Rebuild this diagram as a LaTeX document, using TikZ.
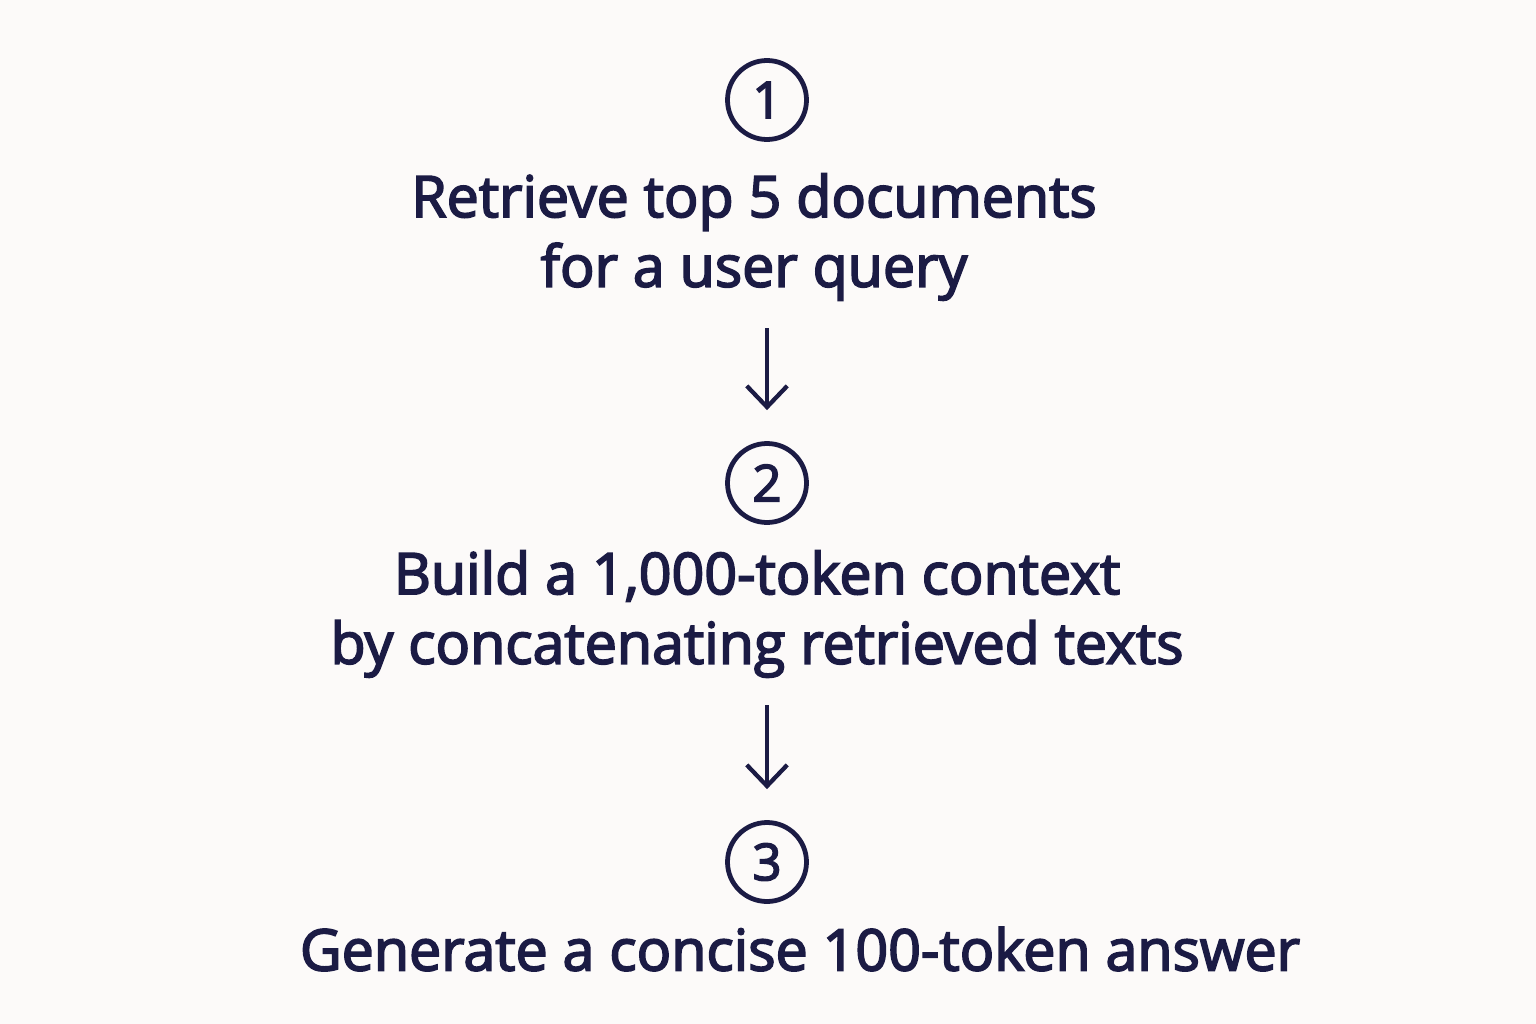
\documentclass[tikz,border=0pt]{standalone}
\usepackage{fontspec}
\setmainfont{Open Sans}[FakeBold=3]
\usetikzlibrary{arrows.meta}
\definecolor{ink}{RGB}{27,27,68}
\definecolor{paper}{RGB}{252,250,249}
\begin{document}
\begin{tikzpicture}[x=0.01cm,y=-0.01cm,
           step_num/.style={circle,draw=ink,line width=4.8pt*0.283,minimum size=79*0.01cm,inner sep=0pt,
                            text=ink,font=\fontsize{14.5}{14.5}\selectfont},
           step_text/.style={align=center,inner sep=0pt,text=ink,font=\fontsize{16.3}{19.8}\selectfont},
           flow_arrow/.style={draw=ink,line width=4.3pt*0.283,-{Straight Barb[length=6pt,width=11.5pt,line width=4.3pt*0.283]},
                              shorten <=27*0.01cm,shorten >=31*0.01cm}]
            \fill[paper] (0,0) rectangle (1536,1024);
            \useasboundingbox (0,0) rectangle (1536,1024);
            \node[step_num] (s1) at (767,100) {1};
            \node[step_text] (t1) at (754,237) {Retrieve top 5 documents\\for a user query};
            \node[step_num] (s2) at (767,483) {2};
            \node[step_text] (t2) at (757,614) {Build a 1,000-token context\\by concatenating retrieved texts};
            \node[step_num] (s3) at (767,862) {3};
            \node[step_text] (t3) at (800,949) {Generate a concise 100-token answer};
            \draw[flow_arrow] (t1.south -| s2.north) -- (s2.north);
            \draw[flow_arrow] (t2.south -| s3.north) -- (s3.north);
        \end{tikzpicture}
\end{document}
